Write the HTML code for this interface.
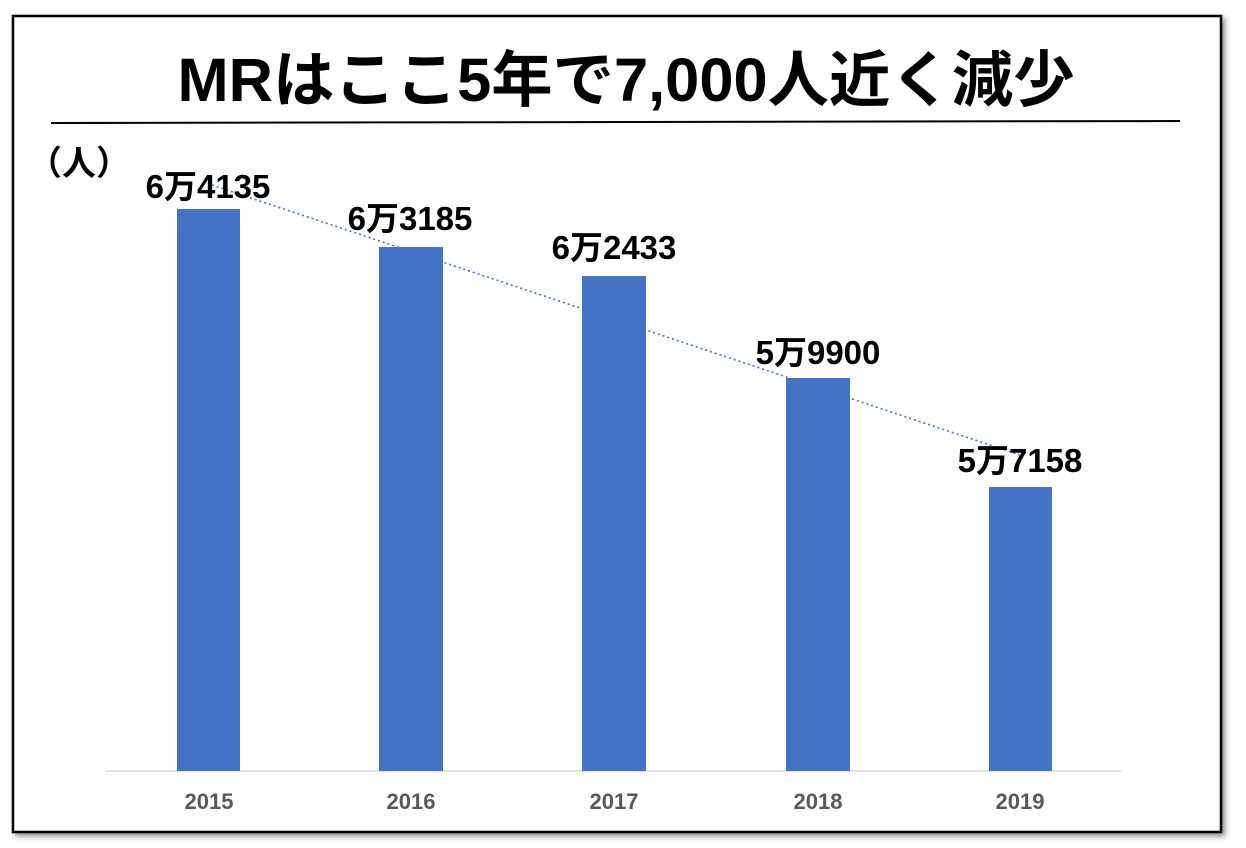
<!DOCTYPE html>
<html><head><meta charset="utf-8"><style>
html,body{margin:0;padding:0;background:#fff;}
svg{display:block;}
</style></head><body>
<svg width="1246" height="848" xmlns="http://www.w3.org/2000/svg" font-family="'Liberation Sans','Noto Sans CJK JP',sans-serif">
<defs><filter id="sh" x="-5%" y="-5%" width="110%" height="110%"><feDropShadow dx="3" dy="3" stdDeviation="3" flood-color="#000" flood-opacity="0.45"/></filter></defs>
<rect x="13" y="16" width="1208" height="816" fill="#fff" stroke="#000" stroke-width="2.5" filter="url(#sh)"/>
<text x="626" y="101" text-anchor="middle" font-size="61" font-weight="bold" textLength="897" lengthAdjust="spacingAndGlyphs">MRはここ5年で7,000人近く減少</text>
<line x1="51" y1="123" x2="1180" y2="121" stroke="#000" stroke-width="2"/>
<text x="28" y="175" font-size="34" font-weight="bold">（人）</text>
<line x1="105" y1="771" x2="1121" y2="771" stroke="#d9d9d9" stroke-width="1.5"/>
<g fill="#4472c4">
<rect x="177" y="209" width="63" height="562"/>
<rect x="379" y="247" width="64" height="524"/>
<rect x="582" y="276" width="64" height="495"/>
<rect x="786" y="378" width="64" height="393"/>
<rect x="989" y="487" width="63" height="284"/>
</g>
<line x1="212" y1="185" x2="1020" y2="455" stroke="#4472c4" stroke-width="1.6" stroke-dasharray="2,3"/>
<g font-size="33" font-weight="bold" text-anchor="middle" fill="#000">
<text x="208" y="198">6万4135</text>
<text x="410" y="230">6万3185</text>
<text x="614" y="259">6万2433</text>
<text x="818" y="364">5万9900</text>
<text x="1020" y="472">5万7158</text>
</g>
<g font-size="22" font-weight="bold" text-anchor="middle" fill="#595959">
<text x="209" y="809">2015</text>
<text x="411" y="809">2016</text>
<text x="614" y="809">2017</text>
<text x="818" y="809">2018</text>
<text x="1020" y="809">2019</text>
</g>
</svg>
</body></html>
